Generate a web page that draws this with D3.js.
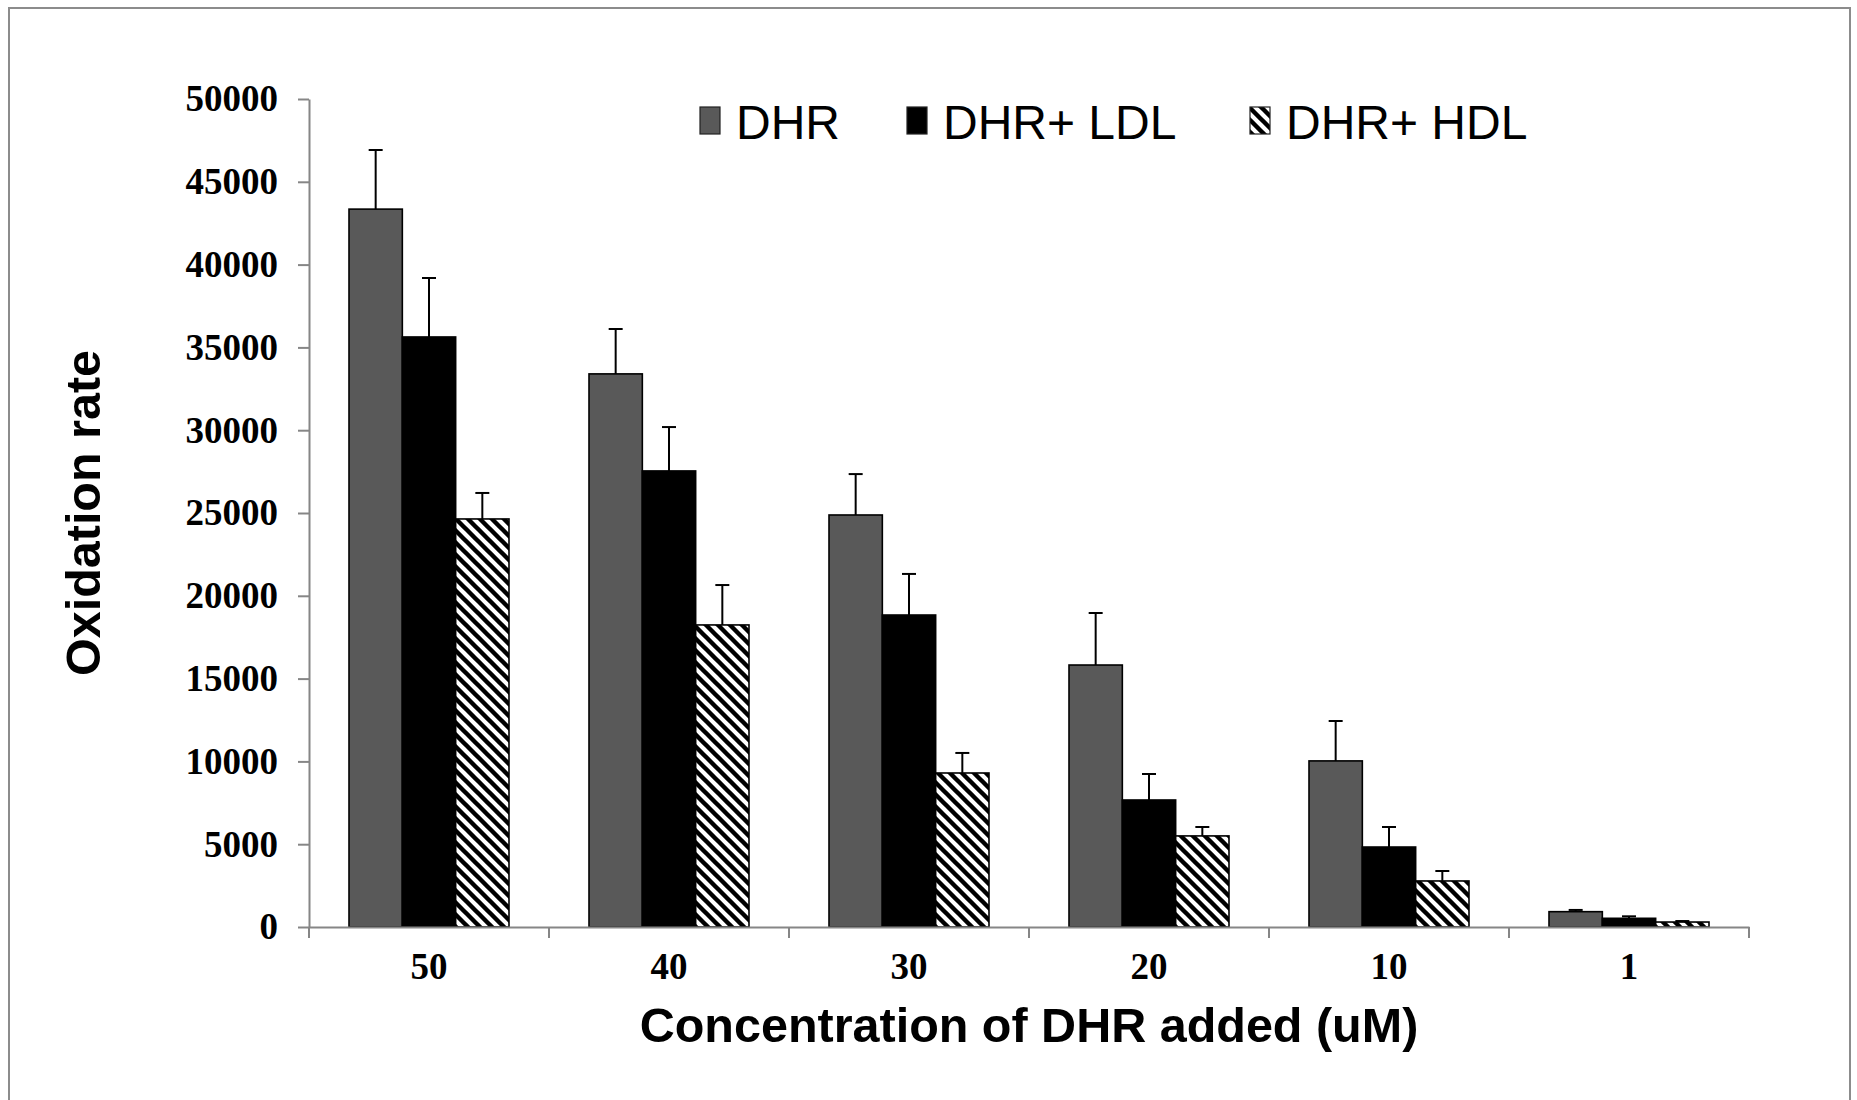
<!DOCTYPE html>
<html>
<head>
<meta charset="utf-8" />
<title>Oxidation rate</title>
<script src="https://d3js.org/d3.v7.min.js"></script>
<style>
  body { margin: 0; background: #fff; }
</style>
</head>
<body>
<div id="chart"></div>
<script>
// data
var categories = ["50", "40", "30", "20", "10", "1"];
var seriesNames = ["DHR", "DHR+ LDL", "DHR+ HDL"];
var dhr    = [43350, 33400, 24880, 15820, 10030, 925];
var dhrErr = [3570, 2710, 2470, 3140, 2410, 105];
var ldl    = [35630, 27540, 18840, 7670, 4830, 525];
var ldlErr = [3560, 2650, 2480, 1570, 1210, 120];
var hdl    = [24640, 18240, 9300, 5500, 2780, 300];
var hdlErr = [1570, 2410, 1210, 540, 600, 60];
var yTicks = [0, 5000, 10000, 15000, 20000, 25000, 30000, 35000, 40000, 45000, 50000];

var values = [dhr, ldl, hdl];
var errors = [dhrErr, ldlErr, hdlErr];
var fills = ["#595959", "#000000", "url(#hatch)"];

var width = 1857, height = 1100;
var svg = d3.select("#chart").append("svg").attr("width", width).attr("height", height);

// hatch pattern for the HDL series
var defs = svg.append("defs");
var pat = defs.append("pattern").attr("id", "hatch")
  .attr("patternUnits", "userSpaceOnUse").attr("width", 12).attr("height", 12);
pat.append("rect").attr("width", 12).attr("height", 12).attr("fill", "#fff");
pat.append("path").attr("d", "M-3,9 L3,15 M0,0 L12,12 M9,-3 L15,3")
  .attr("stroke", "#000").attr("stroke-width", 4.4);

// outer frame
svg.append("rect").attr("x", 9).attr("y", 8).attr("width", 1841).attr("height", 1100)
  .attr("fill", "none").attr("stroke", "#8c8c8c").attr("stroke-width", 2);

var x0 = d3.scaleBand().domain(categories).range([309, 1749]).padding(0);
var x1 = d3.scaleBand().domain(seriesNames).range([0, x0.bandwidth()]).paddingInner(0).paddingOuter(0.75);
var y = d3.scaleLinear().domain([0, 50000]).range([927, 99]);

// y axis
var yAxis = svg.append("g").attr("transform", "translate(309,0)")
  .call(d3.axisLeft(y).tickValues(yTicks).tickSize(11).tickSizeOuter(0).tickPadding(20).tickFormat(d3.format("d")));
yAxis.select(".domain").attr("stroke", "#868686").attr("stroke-width", 2);
yAxis.selectAll(".tick line").attr("stroke", "#868686").attr("stroke-width", 2);
yAxis.selectAll("text").attr("font-family", "'Liberation Serif', 'Times New Roman', serif")
  .attr("font-weight", "bold").attr("font-size", 37).attr("fill", "#000");

// bars
var groups = svg.selectAll(".grp").data(categories).enter().append("g")
  .attr("class", "grp").attr("transform", function(d) { return "translate(" + x0(d) + ",0)"; });

seriesNames.forEach(function(s, si) {
  groups.append("rect")
    .attr("x", x1(s))
    .attr("y", function(d, i) { return y(values[si][i]); })
    .attr("width", x1.bandwidth())
    .attr("height", function(d, i) { return y(0) - y(values[si][i]); })
    .attr("fill", fills[si])
    .attr("stroke", "#000").attr("stroke-width", 1.6);
});

// error bars (upper only)
seriesNames.forEach(function(s, si) {
  var cx = x1(s) + x1.bandwidth() / 2;
  groups.append("line")
    .attr("x1", cx).attr("x2", cx)
    .attr("y1", function(d, i) { return y(values[si][i]); })
    .attr("y2", function(d, i) { return y(values[si][i] + errors[si][i]); })
    .attr("stroke", "#000").attr("stroke-width", 2);
  groups.append("line")
    .attr("x1", cx - 7).attr("x2", cx + 7)
    .attr("y1", function(d, i) { return y(values[si][i] + errors[si][i]); })
    .attr("y2", function(d, i) { return y(values[si][i] + errors[si][i]); })
    .attr("stroke", "#000").attr("stroke-width", 2);
});

// x axis: labels at band centres, ticks at band edges
var xAxis = svg.append("g").attr("transform", "translate(0," + y(0) + ")")
  .call(d3.axisBottom(x0).tickSize(0).tickPadding(26));
xAxis.select(".domain").attr("stroke", "#868686").attr("stroke-width", 2);
xAxis.selectAll("text").attr("font-family", "'Liberation Serif', 'Times New Roman', serif")
  .attr("font-weight", "bold").attr("font-size", 37).attr("fill", "#000");
var edges = categories.map(function(c) { return x0(c); }).concat([x0.range()[1]]);
xAxis.selectAll(".edge").data(edges).enter().append("line").attr("class", "edge")
  .attr("x1", function(d) { return d; }).attr("x2", function(d) { return d; })
  .attr("y1", 0).attr("y2", 11)
  .attr("stroke", "#868686").attr("stroke-width", 2);

// axis titles
svg.append("text").attr("x", 1029).attr("y", 1042).attr("text-anchor", "middle")
  .attr("font-family", "'Liberation Sans', Arial, sans-serif").attr("font-weight", "bold")
  .attr("font-size", 48.5).text("Concentration of DHR added (uM)");
svg.append("text").attr("transform", "translate(100,513) rotate(-90)").attr("text-anchor", "middle")
  .attr("font-family", "'Liberation Sans', Arial, sans-serif").attr("font-weight", "bold")
  .attr("font-size", 48.5).text("Oxidation rate");

// legend
var legendX = [700, 907, 1250];
var leg = svg.selectAll(".leg").data(seriesNames).enter().append("g").attr("class", "leg")
  .attr("transform", function(d, i) { return "translate(" + legendX[i] + ",0)"; });
leg.append("rect").attr("x", 0).attr("y", 107).attr("width", 20).attr("height", 27)
  .attr("fill", function(d, i) { return fills[i]; }).attr("stroke", "#222").attr("stroke-width", 1.2);
leg.append("text").attr("x", 36).attr("y", 139)
  .attr("font-family", "'Liberation Sans', Arial, sans-serif").attr("font-size", 48)
  .attr("fill", "#000").text(function(d) { return d; });
</script>
</body>
</html>
